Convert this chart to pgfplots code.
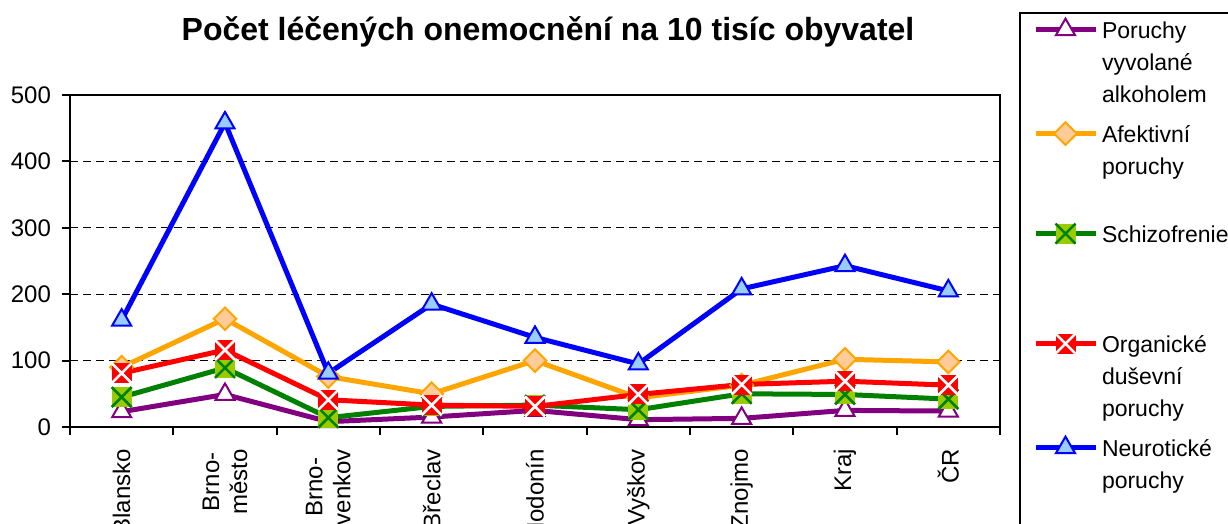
\documentclass[border=0pt]{standalone}
\usepackage{fontspec}
\setmainfont{Liberation Sans}
\usepackage{pgfplots}
\pgfplotsset{compat=1.18}
\definecolor{cPurple}{HTML}{800080}
\definecolor{cOrange}{HTML}{FFA500}
\definecolor{cOrangeL}{HTML}{FFCC99}
\definecolor{cGreen}{HTML}{008000}
\definecolor{cGreenL}{HTML}{99CC00}
\definecolor{cRed}{HTML}{FF0000}
\definecolor{cBlue}{HTML}{0000FF}
\definecolor{cBlueL}{HTML}{99CCFF}
\pgfdeclareplotmark{sqxred}{%
  \pgfsetfillcolor{cRed}%
  \pgfpathrectangle{\pgfpoint{-\pgfplotmarksize}{-\pgfplotmarksize}}{\pgfpoint{2\pgfplotmarksize}{2\pgfplotmarksize}}%
  \pgfusepathqfill
  \pgfsetstrokecolor{white}\pgfsetlinewidth{1.3pt}%
  \pgfpathmoveto{\pgfpoint{-\pgfplotmarksize}{-\pgfplotmarksize}}\pgfpathlineto{\pgfpoint{\pgfplotmarksize}{\pgfplotmarksize}}%
  \pgfpathmoveto{\pgfpoint{-\pgfplotmarksize}{\pgfplotmarksize}}\pgfpathlineto{\pgfpoint{\pgfplotmarksize}{-\pgfplotmarksize}}%
  \pgfusepathqstroke}
\pgfdeclareplotmark{sqxgreen}{%
  \pgfsetfillcolor{cGreenL}%
  \pgfpathrectangle{\pgfpoint{-\pgfplotmarksize}{-\pgfplotmarksize}}{\pgfpoint{2\pgfplotmarksize}{2\pgfplotmarksize}}%
  \pgfusepathqfill
  \pgfsetstrokecolor{cGreen}\pgfsetlinewidth{1.3pt}%
  \pgfpathmoveto{\pgfpoint{-\pgfplotmarksize}{-\pgfplotmarksize}}\pgfpathlineto{\pgfpoint{\pgfplotmarksize}{\pgfplotmarksize}}%
  \pgfpathmoveto{\pgfpoint{-\pgfplotmarksize}{\pgfplotmarksize}}\pgfpathlineto{\pgfpoint{\pgfplotmarksize}{-\pgfplotmarksize}}%
  \pgfusepathqstroke}
% legend line helpers: normal line, first line of an entry
\newcommand{\nl}[1]{\rule{0pt}{13.5pt}#1}
\newcommand{\fl}[1]{\rule{0pt}{17.5pt}#1}
\begin{document}
\begin{tikzpicture}
\useasboundingbox (-35pt,-48.5pt) rectangle (579pt,213.5pt);
\begin{axis}[
  at={(0pt,0pt)}, anchor=south west,
  scale only axis, width=465pt, height=166pt,
  xmin=-0.5, xmax=8.5, ymin=0, ymax=500,
  axis line style={line width=1pt, black},
  ytick={0,100,...,500},
  xtick={-0.5,0.5,...,8.5},
  xticklabels={},
  extra x ticks={0,1,...,8},
  extra x tick labels={Blansko,{Brno-\\město},{Brno-\\venkov},Břeclav,Hodonín,Vyškov,Znojmo,Kraj,ČR},
  extra x tick style={major tick length=0pt, tick label style={yshift=-7.5pt, rotate=90, anchor=east, align=center}},
  tick align=outside, tick pos=left,
  major tick length=4pt,
  tick style={line width=1pt, black},
  /pgf/number format/assume math mode=true,
  ticklabel style={font=\fontsize{12}{14}\selectfont},
  yticklabel style={xshift=-2pt},
  ymajorgrids,
  grid style={black, line width=0.5pt, dash pattern=on 4pt off 2.5pt},
  title={Počet léčených onemocnění na 10 tisíc obyvatel},
  title style={at={(axis description cs:0.514,1)}, anchor=base, yshift=21.5pt, font=\fontsize{16}{19}\selectfont\bfseries},
  legend image code/.code={\draw[mark repeat=2,mark phase=2,#1] plot coordinates {(0pt,4.2pt)(15pt,4.2pt)(30pt,4.2pt)};},
  legend style={at={(axis description cs:0,1)}, anchor=north west, xshift=474.5pt, yshift=41.5pt,
    draw=black, line width=1pt, inner xsep=6.5pt, inner ysep=2pt, row sep=1pt,
    nodes={inner ysep=0pt, inner xsep=2pt},
    font=\fontsize{11.5}{14}\selectfont, cells={anchor=base west}},
  every axis plot/.append style={line width=2.5pt},
]
\addplot[cPurple, mark=triangle*, mark size=5.5pt, mark options={solid, fill=white, draw=cPurple, line width=1pt}]
  coordinates {(0,23)(1,49)(2,8)(3,15)(4,25)(5,11)(6,13)(7,25)(8,24)};
\addlegendentry{\rule{0pt}{10.5pt}Poruchy}
\addlegendimage{empty legend}\addlegendentry{\nl{vyvolané}}
\addlegendimage{empty legend}\addlegendentry{\nl{alkoholem}}
\addplot[cOrange, mark=square*, mark size=4pt, mark options={solid, rotate=45, fill=cOrangeL, draw=cOrange, line width=1pt}]
  coordinates {(0,90)(1,163)(2,76)(3,50)(4,100)(5,44)(6,63)(7,102)(8,98)};
\addlegendentry{\fl{Afektivní}}
\addlegendimage{empty legend}\addlegendentry{\nl{poruchy}}
\addlegendimage{empty legend}\addlegendentry{\rule{0pt}{11.5pt}}
\addplot[cGreen, mark=sqxgreen, mark size=5pt, mark options={solid}]
  coordinates {(0,45)(1,89)(2,14)(3,31)(4,33)(5,26)(6,50)(7,49)(8,42)};
\addlegendentry{\fl{Schizofrenie}}
\addlegendimage{empty legend}\addlegendentry{\nl{}}
\addlegendimage{empty legend}\addlegendentry{\rule{0pt}{16.5pt}}
\addplot[cRed, mark=sqxred, mark size=5pt, mark options={solid}]
  coordinates {(0,81)(1,116)(2,41)(3,33)(4,31)(5,49)(6,64)(7,69)(8,63)};
\addlegendentry{\fl{Organické}}
\addlegendimage{empty legend}\addlegendentry{\nl{duševní}}
\addlegendimage{empty legend}\addlegendentry{\nl{poruchy}}
\addplot[cBlue, mark=triangle*, mark size=5.5pt, mark options={solid, fill=cBlueL, draw=cBlue, line width=1pt}]
  coordinates {(0,161)(1,458)(2,81)(3,185)(4,135)(5,95)(6,208)(7,243)(8,205)};
\addlegendentry{\fl{Neurotické}}
\addlegendimage{empty legend}\addlegendentry{\nl{poruchy}}
\addlegendimage{empty legend}\addlegendentry{\nl{}}
\addlegendimage{empty legend}\addlegendentry{\nl{}}
\end{axis}
\end{tikzpicture}
\end{document}
